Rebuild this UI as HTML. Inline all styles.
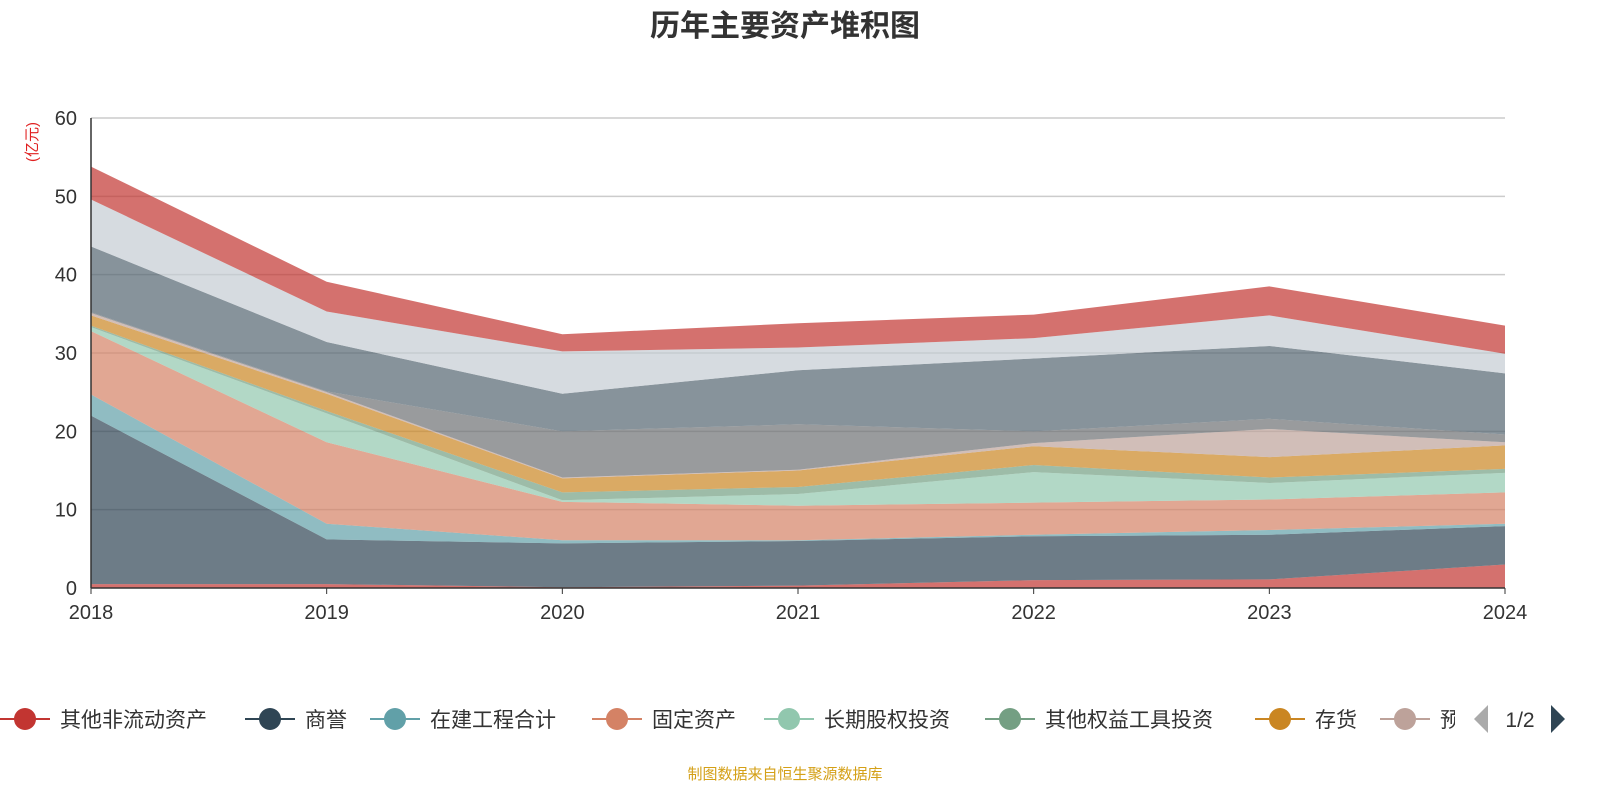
<!DOCTYPE html>
<html><head><meta charset="utf-8"><style>
body{margin:0;width:1600px;height:800px;background:#fff;overflow:hidden;font-family:"Liberation Sans","Noto Sans CJK SC",sans-serif}
</style></head><body>
<svg id="c" width="1600" height="800">
<text x="785" y="36" text-anchor="middle" font-size="30" font-weight="bold" fill="#333" font-family="Liberation Sans,Noto Sans CJK SC,sans-serif">历年主要资产堆积图</text>
<text transform="translate(37,142) rotate(-90)" text-anchor="middle" font-size="15" fill="#e02020" font-family="Liberation Sans,Noto Sans CJK SC,sans-serif">(亿元)</text>
<g id="grid"></g><g id="areas"></g><g id="axes"></g><g id="legend"></g>
<text x="785" y="779" text-anchor="middle" font-size="15" fill="#d4a017" font-family="Liberation Sans,Noto Sans CJK SC,sans-serif">制图数据来自恒生聚源数据库</text>
</svg>
<script>
const years=["2018","2019","2020","2021","2022","2023","2024"];
const yTicks=[0,10,20,30,40,50,60];
const names=["其他非流动资产","商誉","在建工程合计","固定资产","长期股权投资","其他权益工具投资","存货","预付款项","无形资产","应收账款","货币资金","交易性金融资产"];
const colors=["#c23531","#2f4554","#61a0a8","#d48265","#91c7ae","#749f83","#ca8622","#bda29a","#6e7074","#546570","#c4ccd3","#c23531"];
const s0=[0.5,0.5,0.1,0.3,1.0,1.1,3.0];
const s1=[21.5,5.7,5.6,5.7,5.6,5.7,4.9];
const s2=[2.7,2.0,0.4,0.1,0.2,0.6,0.3];
const s3=[8.1,10.4,4.9,4.4,4.1,3.9,4.0];
const s4=[0.5,3.7,0.2,1.5,3.9,2.1,2.5];
const s5=[0.2,0.3,1.0,0.9,0.9,0.7,0.5];
const s6=[1.3,2.2,1.8,2.1,2.4,2.6,3.0];
const s7=[0.3,0.2,0.1,0.1,0.4,3.6,0.4];
const s8=[0.1,0.1,5.9,5.8,1.5,1.3,1.0];
const s9=[8.4,6.3,4.8,6.9,9.3,9.3,7.8];
const s10=[6.0,3.9,5.4,2.9,2.6,3.9,2.5];
const s11=[4.2,3.8,2.2,3.1,3.0,3.7,3.6];
const series=[s0,s1,s2,s3,s4,s5,s6,s7,s8,s9,s10,s11];
const NS="http://www.w3.org/2000/svg";
const x0=91,x1=1505,yb=588,yt=118,ymax=60;
const X=i=>x0+(x1-x0)*i/(years.length-1);
const Y=v=>yb-(yb-yt)*v/ymax;
function mk(t,a,p){const e=document.createElementNS(NS,t);for(const k in a)e.setAttribute(k,a[k]);if(p)p.appendChild(e);return e;}
const grid=document.getElementById('grid'),axes=document.getElementById('axes'),areas=document.getElementById('areas'),leg=document.getElementById('legend');
yTicks.forEach(v=>{
 if(v>0){const g=mk('line',{x1:x0,x2:x1,y1:Y(v),y2:Y(v),stroke:'#ccc','stroke-width':1.5},grid);
 
 }
 const t=mk('text',{x:x0-14,y:Y(v)+7,'text-anchor':'end','font-size':20,fill:'#333'},axes);t.textContent=v;
 
 
});
let cum=years.map(()=>0);
series.forEach((s,k)=>{
 const lo=cum.slice();cum=cum.map((c,i)=>c+s[i]);
 let d='M'+years.map((_,i)=>X(i)+','+Y(cum[i])).join('L');
 for(let i=years.length-1;i>=0;i--)d+='L'+X(i)+','+Y(lo[i]);
 const p=mk('path',{d:d+'Z',fill:colors[k],'fill-opacity':0.7,stroke:'none'},areas);
 
 
});
mk('line',{x1:x0,x2:x0,y1:yt,y2:yb,stroke:'#333','stroke-width':1.5},axes);
mk('line',{x1:x0,x2:x1,y1:yb,y2:yb,stroke:'#333','stroke-width':1.5},axes);
years.forEach((y,i)=>{
 mk('line',{x1:X(i),x2:X(i),y1:yb,y2:yb+6,stroke:'#333'},axes);
 const t=mk('text',{x:X(i),y:yb+31,'text-anchor':'middle','font-size':20,fill:'#333'},axes);t.textContent=y;
 
 
});
const lx=[0,245,370,592,764,985,1255,1380];
lx.forEach((x,k)=>{
 const g=mk('g',{},leg);
 
 
 mk('line',{x1:x,x2:x+50,y1:719,y2:719,stroke:colors[k],'stroke-width':2},g);
 mk('circle',{cx:x+25,cy:719,r:11,fill:colors[k]},g);
 const t=mk('text',{x:x+60,y:727,'font-size':21,fill:'#333'},g);t.textContent=names[k];
 if(k===7)t.setAttribute('clip-path','url(#lc)');
});
const cp=mk('clipPath',{id:'lc'},leg);mk('rect',{x:1380,y:690,width:75,height:60},cp);
const pl=mk('path',{d:'M1488,705L1474,719L1488,733Z',fill:'#aaa'},leg);


const pt=mk('text',{x:1520,y:727,'text-anchor':'middle','font-size':21,fill:'#333'},leg);pt.textContent='1/2';


const pn=mk('path',{d:'M1551,705L1565,719L1551,733Z',fill:'#2f4554'},leg);


</script>
</body></html>
